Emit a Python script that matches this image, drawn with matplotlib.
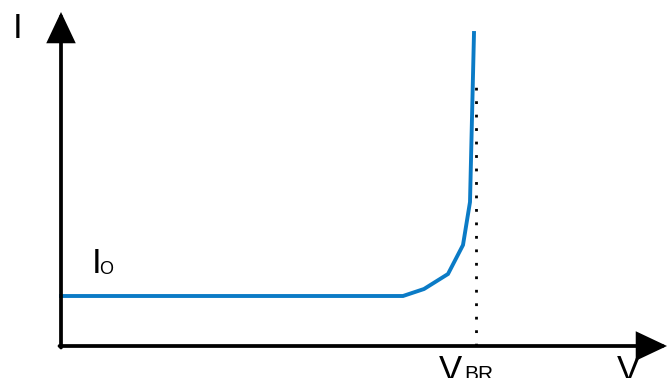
import matplotlib.pyplot as plt
from matplotlib.patches import ArrowStyle

plt.rcParams['font.family'] = ['Liberation Sans', 'DejaVu Sans']

# reverse-bias I-V curve of a diode (arbitrary units)
v = [0, 342, 363, 387, 402, 409, 413]
i = [50, 50, 57, 72, 101, 144, 313]
v_br = 415
v_max = 606
i_max = 334

blue = '#0b7bc6'

fig = plt.figure(figsize=(6.68, 3.78), dpi=100)
ax = fig.add_axes([0, 0, 1, 1])
ax.set_xlim(-61, 607)
ax.set_ylim(-32, 346)
ax.axis('off')

head = ArrowStyle('-|>', head_length=18, head_width=8.5)
arrow = dict(arrowstyle=head, lw=2.7, color='black', shrinkA=0, shrinkB=0,
             mutation_scale=1, joinstyle='miter')
ax.annotate('', xy=(0, i_max), xytext=(0, -1.5), arrowprops=arrow)
ax.annotate('', xy=(v_max, 0), xytext=(-1.5, 0), arrowprops=arrow)

# breakdown voltage marker
ax.plot([v_br, v_br], [0, 263], color='black', lw=2,
        linestyle=(0, (1, 3.85)), solid_capstyle='butt')

ax.plot(v, i, color=blue, lw=2.8, solid_joinstyle='miter')

ax.text(-48, 308, 'I', fontsize=25, va='baseline', ha='left')
ax.text(31, 73, 'I', fontsize=25, va='baseline', ha='left')
ax.text(38, 72, 'O', fontsize=13, va='baseline', ha='left')
ax.text(556, -34, 'V', fontsize=25, va='baseline', ha='left', clip_on=False)
ax.text(378, -34, 'V', fontsize=25, va='baseline', ha='left', clip_on=False)
ax.text(403, -34, 'BR', fontsize=15, va='baseline', ha='left', clip_on=False)

fig.savefig('out.png', dpi=100)
